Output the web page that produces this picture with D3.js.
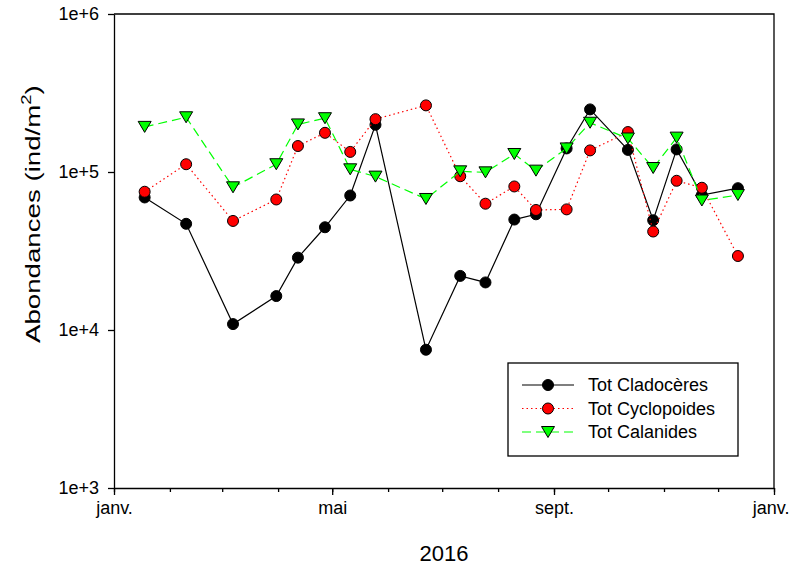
<!DOCTYPE html>
<html>
<head>
<meta charset="utf-8">
<script src="https://cdn.jsdelivr.net/npm/d3@7"></script>
<style>
  body { margin: 0; background: #fff; }
  text { font-family: Arial, "Liberation Sans", sans-serif; }
</style>
</head>
<body>
<script>
// sampling dates
var dates = ["2016-01-18", "2016-02-10", "2016-03-07", "2016-03-31", "2016-04-12",
             "2016-04-27", "2016-05-11", "2016-05-25", "2016-06-22", "2016-07-11",
             "2016-07-25", "2016-08-10", "2016-08-22", "2016-09-08", "2016-09-21",
             "2016-10-12", "2016-10-26", "2016-11-08", "2016-11-22", "2016-12-12"];

var cladoceres = [69000, 47000, 10900, 16400, 28700, 44700, 71000, 199000, 7500, 22000,
                  20000, 50000, 54000, 141000, 249000, 138000, 49500, 139000, 71500, 79000];

var cyclopoides = [75000, 112000, 49000, 67000, 146000, 177000, 134000, 216000, 264000, 94000,
                   63000, 81000, 57500, 58000, 137000, 179000, 42000, 88000, 79500, 29400];

var calanides = [193000, 222000, 80000, 112000, 200000, 219000, 104000, 93500, 67500, 101000,
                 99500, 130000, 102000, 141000, 205000, 163000, 106000, 165000, 66000, 71500];

var seriesNames = ["Tot Cladocères", "Tot Cyclopoides", "Tot Calanides"];

var yTicks = [1e3, 1e4, 1e5, 1e6];
var yTickLabels = ["1e+3", "1e+4", "1e+5", "1e+6"];
var xTickLabels = ["janv.", "mai", "sept.", "janv."];

var w = 791, h = 569;
var plotLeft = 114, plotRight = 774, plotTop = 14, plotBottom = 488;

var parseDate = d3.timeParse("%Y-%m-%d");
var days = dates.map(parseDate);

var xScale = d3.scaleTime()
    .domain([new Date(2016, 0, 1), new Date(2017, 0, 1)])
    .range([plotLeft, plotRight]);

var yScale = d3.scaleLog()
    .domain([1e3, 1e6])
    .range([plotBottom, plotTop]);

var svg = d3.select("body")
    .append("svg")
    .attr("width", w)
    .attr("height", h);

// frame (top + right)
svg.append("path")
    .attr("d", "M" + plotLeft + "," + plotTop + "H" + plotRight + "V" + plotBottom)
    .attr("fill", "none")
    .attr("stroke", "#000")
    .attr("stroke-width", 1.3);

// minor x ticks (months)
var xMinor = d3.axisBottom(xScale)
    .ticks(d3.timeMonth.every(1))
    .tickSize(4)
    .tickFormat("");
svg.append("g")
    .attr("transform", "translate(0," + plotBottom + ")")
    .call(xMinor)
    .call(function(g) { g.select(".domain").remove(); });

// major x ticks
var xMajorVals = [new Date(2016, 0, 1), new Date(2016, 4, 1), new Date(2016, 8, 1), new Date(2017, 0, 1)];
var xAxis = d3.axisBottom(xScale)
    .tickValues(xMajorVals)
    .tickSize(7)
    .tickSizeOuter(0)
    .tickPadding(6)
    .tickFormat(function(d, i) { return xTickLabels[i]; });
var gx = svg.append("g")
    .attr("transform", "translate(0," + plotBottom + ")")
    .call(xAxis);

// y axis
var yAxis = d3.axisLeft(yScale)
    .tickValues(yTicks)
    .tickSize(6)
    .tickSizeOuter(0)
    .tickPadding(9)
    .tickFormat(function(d, i) { return yTickLabels[i]; });
var gy = svg.append("g")
    .attr("transform", "translate(" + plotLeft + ",0)")
    .call(yAxis);

svg.selectAll(".tick text")
    .attr("font-family", "Arial, 'Liberation Sans', sans-serif")
    .attr("fill", "#000");
gx.selectAll(".tick text").attr("font-size", 18);
gy.selectAll(".tick text").attr("font-size", 18);
// keep the last "janv." inside the page
gx.selectAll(".tick text").filter(function(d, i) { return i === xTickLabels.length - 1; })
    .attr("text-anchor", "end")
    .attr("x", 15);
svg.selectAll(".domain, .tick line")
    .attr("stroke", "#000")
    .attr("stroke-width", 1.3);

// axis titles
svg.append("text")
    .attr("x", (plotLeft + plotRight) / 2)
    .attr("y", 561)
    .attr("text-anchor", "middle")
    .attr("font-size", 22)
    .text("2016");

var yTitle = svg.append("text")
    .attr("x", 0)
    .attr("y", 0)
    .attr("font-size", 21);
yTitle.append("tspan").text("Abondances (ind/m");
yTitle.append("tspan").attr("font-size", 14).attr("dy", -9).text("2");
yTitle.append("tspan").attr("dy", 9).text(")");
// stretch the title along its length to the span seen in the picture
var titleLen = yTitle.node().getBBox().width;
var titleK = 258 / titleLen;
yTitle.attr("transform", "rotate(-90) translate(-343,40) scale(" + titleK + ",1)");

var series = [
    { name: seriesNames[0], values: cladoceres, color: "#000", dash: null, marker: "circle", fill: "#000" },
    { name: seriesNames[1], values: cyclopoides, color: "#ff0000", dash: "1.5,3", marker: "circle", fill: "#ff0000" },
    { name: seriesNames[2], values: calanides, color: "#00ff00", dash: "9,5", marker: "triangle", fill: "#00ff00" }
];

var line = d3.line()
    .x(function(d) { return xScale(d.date); })
    .y(function(d) { return yScale(d.v); });

var triPath = "M-6.5,-5.5L6.5,-5.5L0,5.5Z";

function drawMarker(g, s, cx, cy) {
    if (s.marker === "circle") {
        g.append("circle")
            .attr("cx", cx).attr("cy", cy).attr("r", 5.5)
            .attr("fill", s.fill).attr("stroke", "#000").attr("stroke-width", 1);
    } else {
        g.append("path")
            .attr("d", triPath)
            .attr("transform", "translate(" + cx + "," + cy + ")")
            .attr("fill", s.fill).attr("stroke", "#000").attr("stroke-width", 1);
    }
}

series.forEach(function(s) {
    var pts = s.values.map(function(v, i) { return { date: days[i], v: v }; });
    var g = svg.append("g");
    g.append("path")
        .datum(pts)
        .attr("d", line)
        .attr("fill", "none")
        .attr("stroke", s.color)
        .attr("stroke-width", 1.2)
        .attr("stroke-dasharray", s.dash);
    pts.forEach(function(p) {
        drawMarker(g, s, xScale(p.date), yScale(p.v));
    });
});

// legend
var lg = svg.append("g");
lg.append("rect")
    .attr("x", 508).attr("y", 363)
    .attr("width", 230).attr("height", 93)
    .attr("fill", "#fff")
    .attr("stroke", "#000")
    .attr("stroke-width", 1.3);

series.forEach(function(s, i) {
    var yy = 385 + i * 23.5;
    lg.append("line")
        .attr("x1", 522).attr("x2", 574)
        .attr("y1", yy).attr("y2", yy)
        .attr("stroke", s.color)
        .attr("stroke-width", 1.2)
        .attr("stroke-dasharray", s.dash);
    drawMarker(lg, s, 548, yy);
    lg.append("text")
        .attr("x", 588)
        .attr("y", yy + 6)
        .attr("font-size", 18)
        .text(s.name);
});
</script>
</body>
</html>
